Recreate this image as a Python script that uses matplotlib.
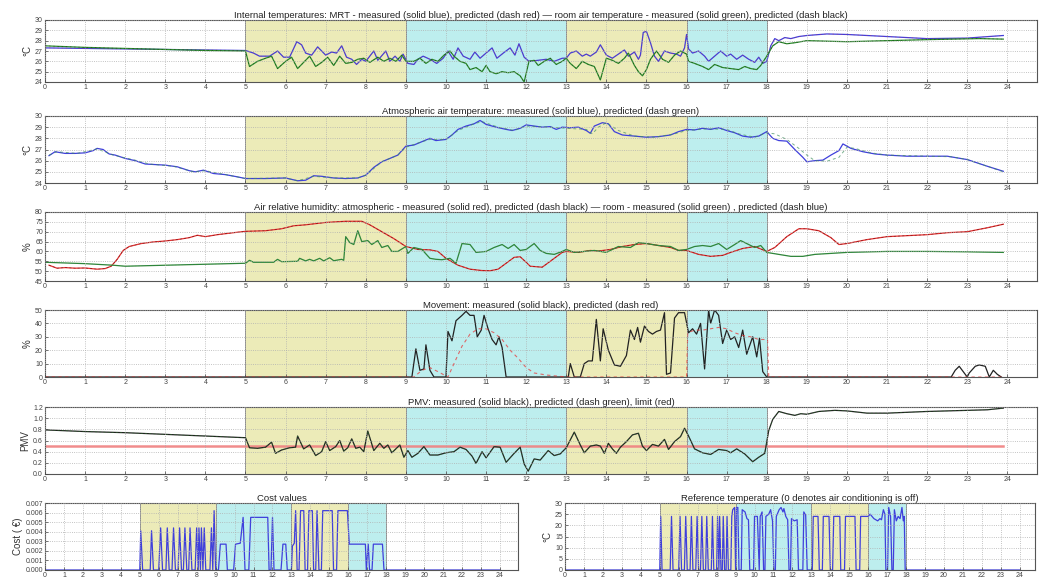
import numpy as np
import matplotlib
matplotlib.use("Agg")
import matplotlib.pyplot as plt

plt.rcParams['font.family'] = ['Liberation Sans', 'DejaVu Sans']

# ---- data (hour, value) ----
mrt = [(0,27.3),(1,27.25),(2,27.2),(3,27.15),(4,27.1),(5,27.05),(5.2,26.8),(5.35,26.5),(5.6,26.5),(5.8,27.0),
       (5.95,26.4),(6.1,26.4),(6.28,27.9),(6.4,27.6),(6.5,26.8),(6.65,26.6),(6.8,27.4),(7.0,26.6),(7.15,26.9),
       (7.27,26.8),(7.4,27.5),(7.52,26.4),(7.65,26.2),(7.77,25.7),(7.9,26.2),(8.0,26.0),(8.2,27.0),(8.3,26.1),
       (8.5,27.0),(8.6,26.0),(8.73,26.5),(8.85,26.0),(8.93,26.7),(9.05,25.8),(9.2,25.7),(9.3,26.2),(9.43,26.5),
       (9.6,26.2),(9.77,25.8),(9.93,26.3),(10.05,27.0),(10.18,26.2),(10.3,27.3),(10.43,26.5),(10.6,26.2),
       (10.72,26.9),(10.85,26.3),(11.0,26.8),(11.15,27.3),(11.27,26.3),(11.43,26.8),(11.6,27.3),(11.72,26.6),
       (11.82,27.7),(11.95,26.4),(12.07,26.0),(12.3,26.1),(12.5,26.2),(12.7,26.0),(12.9,26.3),(13.0,26.3),
       (13.1,26.8),(13.25,27.0),(13.4,26.5),(13.5,26.7),(13.6,26.5),(13.75,26.9),(13.85,27.6),(14.0,26.6),
       (14.15,26.3),(14.3,26.7),(14.45,27.1),(14.55,26.5),(14.7,26.9),(14.8,26.2),(14.85,26.6),(14.92,28.8),
       (15.0,28.9),(15.1,27.8),(15.2,26.5),(15.3,26.0),(15.45,27.0),(15.6,26.8),(15.75,26.7),(15.85,26.5),
       (15.95,27.3),(16.0,28.6),(16.05,27.2),(16.15,26.8),(16.3,27.0),(16.45,26.5),(16.55,26.0),(16.7,26.5),
       (16.85,27.0),(17.0,26.5),(17.1,26.7),(17.25,26.2),(17.4,26.6),(17.55,26.2),(17.7,25.9),(17.8,26.4),
       (17.9,25.8),(18.0,26.0),(18.1,27.5),(18.2,28.2),(18.3,28.0),(18.45,28.3),(18.6,28.2),(18.8,28.4),
       (19.0,28.5),(19.5,28.65),(20.0,28.6),(21.0,28.4),(22.0,28.2),(23.0,28.25),(23.9,28.5)]

room_air = [(0,27.5),(1,27.35),(2,27.25),(3,27.15),(4,27.05),(5,27.0),(5.1,25.5),(5.3,26.0),(5.5,26.3),(5.65,26.5),
            (5.8,25.3),(6.0,26.0),(6.15,26.4),(6.3,25.3),(6.45,25.9),(6.6,26.5),(6.75,25.5),(6.9,25.9),(7.05,26.4),
            (7.2,25.6),(7.35,26.5),(7.5,25.8),(7.65,25.9),(7.8,26.2),(7.95,26.3),(8.1,25.9),(8.3,26.4),(8.45,26.0),
            (8.6,26.3),(8.75,26.0),(8.9,26.6),(9.0,26.0),(9.2,26.0),(9.35,26.3),(9.5,25.8),(9.65,26.2),(9.8,26.0),
            (9.95,26.6),(10.1,27.0),(10.2,26.5),(10.35,26.0),(10.5,25.8),(10.6,25.2),(10.75,25.4),(10.9,25.0),
            (11.0,25.6),(11.1,25.0),(11.25,24.8),(11.4,25.0),(11.55,24.9),(11.7,25.0),(11.85,24.6),(11.95,24.0),
            (12.07,26.0),(12.2,26.1),(12.3,25.6),(12.45,26.0),(12.6,26.3),(12.75,25.7),(12.9,26.0),(13.0,26.3),
            (13.1,25.8),(13.25,25.3),(13.4,26.0),(13.55,25.7),(13.7,25.5),(13.85,24.2),(14.0,26.3),(14.15,26.1),
            (14.3,25.8),(14.45,26.3),(14.55,26.8),(14.7,25.6),(14.8,25.0),(14.9,24.6),(15.0,25.2),(15.1,26.2),
            (15.25,27.0),(15.4,26.2),(15.55,25.9),(15.7,26.6),(15.85,27.0),(16.0,26.7),(16.05,26.0),(16.2,25.8),
            (16.4,25.5),(16.55,25.2),(16.7,25.7),(16.9,25.4),(17.1,25.3),(17.3,25.2),(17.45,25.5),(17.6,25.3),
            (17.75,25.2),(17.85,25.6),(18.0,26.5),(18.15,27.5),(18.3,27.9),(18.5,27.7),(18.7,27.8),(19.0,28.0),
            (20.0,27.9),(21.0,28.0),(22.0,28.1),(23.3,28.2),(23.9,28.15)]

atm = [(0.1,26.45),(0.25,26.8),(0.5,26.65),(0.75,26.65),(1.0,26.7),(1.2,26.9),(1.3,27.1),(1.45,27.0),(1.6,26.6),
       (1.75,26.5),(2.0,26.2),(2.25,26.0),(2.5,25.7),(3.0,25.6),(3.3,25.45),(3.6,25.1),(3.75,25.0),(3.95,25.15),
       (4.2,24.85),(4.5,24.75),(4.8,24.55),(5.0,24.4),(5.5,24.4),(6.0,24.45),(6.3,24.2),(6.5,24.25),(6.7,24.65),
       (6.9,24.6),(7.2,24.45),(7.5,24.4),(7.8,24.45),(8.0,24.7),(8.2,25.4),(8.4,25.9),(8.6,26.2),(8.8,26.5),
       (9.0,27.3),(9.2,27.4),(9.4,27.7),(9.6,28.0),(9.75,27.8),(10.0,27.9),(10.15,28.3),(10.3,28.8),(10.5,29.1),
       (10.7,29.3),(10.85,29.6),(11.0,29.25),(11.25,29.0),(11.5,28.8),(11.65,28.7),(11.85,28.9),(12.0,29.2),
       (12.2,29.1),(12.4,29.0),(12.6,29.05),(12.75,28.8),(12.9,29.0),(13.1,28.95),(13.3,29.0),(13.5,28.7),
       (13.6,28.45),(13.7,29.1),(13.9,29.4),(14.05,29.3),(14.2,28.6),(14.4,28.3),(14.7,28.2),(15.0,28.1),
       (15.3,28.15),(15.6,28.3),(15.8,28.6),(16.0,28.8),(16.2,28.75),(16.4,28.9),(16.6,28.8),(16.8,28.95),
       (17.0,28.7),(17.2,28.5),(17.4,28.2),(17.6,28.1),(17.8,28.2),(17.9,28.4),(18.0,28.6),(18.15,28.0),
       (18.3,27.8),(18.5,27.75),(18.7,27.0),(18.9,26.3),(19.0,25.9),(19.2,26.0),(19.4,26.05),(19.6,26.5),
       (19.8,26.9),(19.9,27.5),(20.1,27.1),(20.4,26.8),(20.7,26.6),(21.0,26.5),(21.5,26.4),(22.0,26.4),
       (22.5,26.4),(23.0,26.1),(23.5,25.5),(23.9,25.05)]

atm_pred = [(0.1,26.5),(0.3,26.8),(0.8,26.65),(1.3,27.05),(1.7,26.5),(2.3,26.0),(2.6,25.7),(3.2,25.5),(3.7,25.0),
            (4.0,25.1),(4.5,24.75),(5.0,24.4),(6.0,24.45),(6.3,24.2),(6.7,24.6),(7.2,24.45),(7.8,24.45),(8.0,24.7),
            (8.4,25.9),(8.8,26.5),(9.0,27.2),(9.4,27.7),(9.6,27.9),(10.0,27.9),(10.3,28.7),(10.7,29.3),(10.9,29.5),
            (11.3,29.0),(11.7,28.7),(12.0,29.1),(12.6,29.0),(13.0,28.9),(13.5,28.8),(13.65,28.4),(13.8,29.0),
            (14.0,29.4),(14.3,28.7),(14.7,28.2),(15.2,28.1),(15.7,28.4),(16.0,28.7),(16.5,28.85),(17.0,28.8),
            (17.3,28.4),(17.7,28.1),(18.0,28.5),(18.2,28.4),(18.5,27.9),(18.8,27.1),(19.0,26.5),(19.2,26.0),
            (19.5,25.95),(19.8,26.3),(20.0,27.2),(20.2,27.1),(20.6,26.7),(21.0,26.5),(22.0,26.4),(22.6,26.35),
            (23.0,26.1),(23.5,25.5),(23.9,25.0)]

hum_atm = [(0.1,53.0),(0.3,51.5),(0.5,51.8),(0.75,51.5),(1.0,51.6),(1.3,51.0),(1.5,51.3),(1.65,52.5),(1.8,56.0),
           (1.95,60.5),(2.1,62.5),(2.4,64.0),(2.7,64.8),(3.0,65.3),(3.3,66.0),(3.6,67.0),(3.8,68.2),(4.0,67.5),
           (4.3,68.5),(4.7,69.5),(5.0,70.2),(5.5,70.5),(5.9,71.5),(6.2,73.0),(6.5,73.5),(7.0,74.7),(7.5,75.3),
           (7.9,75.3),(8.1,73.5),(8.4,70.0),(8.7,66.5),(9.0,62.5),(9.3,61.0),(9.6,60.8),(9.8,60.0),(10.0,56.5),
           (10.3,53.0),(10.6,51.0),(10.9,50.3),(11.1,50.2),(11.3,51.0),(11.5,54.0),(11.7,57.0),(11.85,57.3),
           (12.0,54.5),(12.1,52.5),(12.4,52.0),(12.5,53.5),(12.7,56.5),(12.9,59.5),(13.0,60.0),(13.3,59.5),
           (13.6,60.5),(13.8,60.2),(14.1,61.0),(14.4,62.5),(14.7,63.5),(15.0,64.0),(15.3,63.0),(15.6,62.0),
           (15.8,60.5),(16.0,60.5),(16.3,58.5),(16.6,57.5),(16.9,58.0),(17.1,59.5),(17.4,61.5),(17.7,62.5),
           (18.0,60.0),(18.2,62.0),(18.5,67.5),(18.8,71.5),(19.0,71.5),(19.3,70.5),(19.6,67.0),(19.8,63.5),
           (20.0,64.0),(20.5,66.0),(21.0,67.5),(21.5,68.0),(22.0,68.5),(22.5,69.5),(23.0,70.0),(23.5,72.0),(23.9,73.8)]

hum_room = [(0,54.5),(1.0,53.8),(1.7,53.0),(2.0,52.5),(3.0,53.0),(4.0,53.5),(5.0,54.0),(5.1,55.5),(5.2,54.5),
            (5.7,54.5),(5.8,56.0),(5.9,54.8),(6.3,55.0),(6.35,56.5),(6.5,55.2),(6.6,56.0),(6.7,55.2),(6.85,56.5),
            (6.95,55.2),(7.1,56.8),(7.2,55.3),(7.4,56.0),(7.45,55.5),(7.5,67.5),(7.6,64.5),(7.7,63.5),(7.8,70.5),
            (7.9,65.0),(8.05,65.5),(8.15,63.5),(8.3,65.5),(8.4,62.0),(8.55,63.0),(8.65,60.0),(8.8,60.0),(9.0,62.5),
            (9.05,59.0),(9.2,62.0),(9.4,61.0),(9.6,56.5),(9.75,56.0),(9.9,55.8),(10.1,56.5),(10.25,54.0),(10.4,64.0),
            (10.6,63.5),(10.75,59.5),(11.0,60.0),(11.2,62.0),(11.4,63.5),(11.55,61.5),(11.7,63.5),(11.85,60.5),
            (12.0,61.0),(12.2,64.0),(12.35,60.5),(12.5,59.0),(12.7,58.5),(12.9,60.0),(13.0,61.0),(13.2,59.5),
            (13.45,60.0),(13.7,60.5),(14.0,59.5),(14.3,62.5),(14.6,62.0),(14.8,64.5),(15.0,64.0),(15.3,63.0),
            (15.6,62.5),(15.8,60.5),(16.0,61.0),(16.2,62.5),(16.4,63.0),(16.6,62.5),(16.8,64.0),(17.0,61.0),
            (17.2,63.5),(17.35,65.5),(17.5,64.0),(17.7,62.0),(17.85,63.0),(18.0,59.5),(18.3,58.5),(18.6,57.5),
            (18.9,57.5),(19.2,58.5),(19.6,59.0),(20.0,59.5),(21.0,60.0),(22.0,60.0),(23.0,59.8),(23.9,59.5)]

move = [(0,0),(9.15,0),(9.25,21),(9.35,5),(9.45,6),(9.5,24),(9.6,5),(9.7,0),(10.0,0),(10.05,34),(10.15,27),
        (10.25,42),(10.4,46),(10.5,49),(10.6,46),(10.7,46),(10.78,30),(10.88,35),(10.95,46),(11.05,36),(11.15,28),
        (11.25,24),(11.32,30),(11.4,22),(11.5,0),(13.05,0),(13.1,10),(13.2,0),(13.35,0),(13.45,10),(13.55,12),
        (13.65,12),(13.75,43),(13.85,12),(13.92,36),(14.05,20),(14.2,9),(14.35,8),(14.5,16),(14.6,35),(14.7,28),
        (14.78,37),(14.85,26),(14.95,38),(15.05,34),(15.15,32),(15.25,34),(15.35,35),(15.45,48),(15.5,2),
        (15.6,3),(15.7,44),(15.8,48),(15.9,48),(15.95,48),(16.05,33),(16.15,36),(16.25,32),(16.35,40),(16.45,6),
        (16.55,50),(16.6,40),(16.7,50),(16.8,46),(16.9,25),(17.0,35),(17.1,28),(17.2,30),(17.3,22),(17.4,35),
        (17.5,17),(17.65,30),(17.75,15),(17.82,29),(17.9,4),(18.0,0),(22.6,0),(22.7,5),(22.8,8),(22.9,4),
        (23.0,0),(23.05,3),(23.2,8),(23.3,9),(23.45,8),(23.55,0),(23.65,5),(23.75,2),(23.85,0)]

move_pred = [(0,0),(9.2,0),(9.4,5),(9.6,7),(9.8,4),(10.05,0),(10.2,10),(10.4,23),(10.6,32),(10.8,36),(11.0,36),
             (11.2,33),(11.4,28),(11.6,20),(11.8,14),(12.0,7),(12.2,3),(12.5,1.5),(13.0,0),(16.0,0),(16.03,33),
             (16.2,35),(16.4,35),(16.6,36),(16.8,37),(17.0,36),(17.2,33),(17.4,31),(17.6,30),(17.8,28),(18.02,28),
             (18.05,0),(23.9,0)]

pmv = [(0,0.79),(1,0.76),(2,0.74),(3,0.71),(4,0.68),(5.0,0.65),(5.1,0.47),(5.3,0.46),(5.5,0.48),(5.65,0.57),
       (5.75,0.37),(5.9,0.43),(6.1,0.47),(6.25,0.48),(6.3,0.68),(6.45,0.45),(6.6,0.52),(6.75,0.33),(6.9,0.40),
       (7.0,0.58),(7.1,0.42),(7.25,0.49),(7.35,0.60),(7.45,0.41),(7.55,0.47),(7.65,0.63),(7.75,0.46),(7.85,0.48),
       (7.95,0.40),(8.05,0.77),(8.2,0.42),(8.35,0.55),(8.45,0.46),(8.55,0.52),(8.65,0.38),(8.85,0.52),(8.95,0.30),
       (9.05,0.42),(9.15,0.30),(9.3,0.37),(9.45,0.49),(9.6,0.34),(9.8,0.34),(10.0,0.38),(10.2,0.40),(10.35,0.48),
       (10.5,0.44),(10.65,0.32),(10.75,0.19),(10.9,0.40),(11.0,0.29),(11.2,0.49),(11.35,0.48),(11.5,0.21),
       (11.7,0.37),(11.85,0.48),(11.95,0.18),(12.05,0.05),(12.2,0.27),(12.35,0.25),(12.55,0.42),(12.7,0.33),
       (12.85,0.36),(13.0,0.47),(13.2,0.75),(13.35,0.52),(13.45,0.38),(13.6,0.50),(13.75,0.52),(13.85,0.50),
       (13.95,0.37),(14.05,0.55),(14.15,0.45),(14.25,0.37),(14.35,0.48),(14.5,0.58),(14.65,0.70),(14.8,0.73),
       (14.9,0.50),(15.0,0.42),(15.15,0.53),(15.3,0.50),(15.45,0.62),(15.55,0.44),(15.7,0.58),(15.85,0.67),
       (15.95,0.82),(16.05,0.68),(16.2,0.45),(16.4,0.38),(16.6,0.35),(16.8,0.44),(17.0,0.42),(17.1,0.38),
       (17.25,0.45),(17.45,0.36),(17.65,0.22),(17.8,0.30),(17.95,0.37),(18.05,0.78),(18.15,0.98),(18.3,1.12),
       (18.5,1.08),(18.7,1.05),(18.85,1.08),(19.0,1.07),(19.3,1.12),(19.7,1.14),(20.0,1.13),(20.5,1.09),
       (21.0,1.09),(22.0,1.12),(23.0,1.14),(23.5,1.15),(23.9,1.18)]
pmv_limit = 0.5

cost = [(0,0),(5.0,0),(5.05,0.0041),(5.15,0),(5.55,0),(5.62,0.0041),(5.72,0),(6.0,0),(6.1,0.0044),(6.2,0),
        (6.38,0),(6.45,0.0044),(6.55,0),(6.7,0),(6.78,0.0044),(6.88,0),(7.02,0),(7.1,0.0044),(7.2,0),(7.3,0),
        (7.38,0.0044),(7.48,0),(7.58,0),(7.65,0.0044),(7.75,0),(7.92,0),(8.0,0.0044),(8.08,0),(8.12,0.0044),
        (8.2,0),(8.25,0.0044),(8.33,0),(8.4,0.0044),(8.48,0),(8.7,0),(8.78,0.0044),(8.85,0),(8.92,0.0062),
        (9.0,0),(9.15,0),(9.25,0.0027),(9.55,0.0027),(9.62,0),(9.95,0),(10.05,0.0027),(10.3,0.0028),
        (10.45,0.0055),(10.55,0),(10.75,0),(10.85,0.0055),(11.75,0.0055),(11.82,0),(11.92,0),(12.0,0.0055),
        (12.08,0),(12.45,0),(12.55,0.0027),(12.7,0.0027),(12.78,0),(13.0,0),(13.05,0.0025),(13.15,0.0028),
        (13.22,0.0062),(13.3,0),(13.4,0),(13.48,0.0062),(13.65,0.0062),(13.72,0),(13.85,0),(13.92,0.0062),
        (14.1,0.0062),(14.17,0),(14.28,0),(14.35,0.0062),(14.45,0),(14.58,0),(14.65,0.0062),(15.15,0.0062),
        (15.22,0),(15.38,0),(15.45,0.0062),(15.95,0.0062),(16.05,0.0027),(16.9,0.0027),(16.95,0),(17.05,0.0027),
        (17.12,0),(17.25,0),(17.32,0.0027),(17.8,0.0027),(17.88,0),(24,0)]

ref_temp = [(0,0),(5.0,0),(5.05,24),(5.12,0),(5.55,0),(5.62,24),(5.7,0),(6.0,0),(6.07,24),(6.15,0),(6.3,0),
            (6.37,24),(6.45,0),(6.6,0),(6.67,24),(6.75,0),(6.9,0),(6.97,24),(7.05,0),(7.15,0),(7.22,24),(7.3,0),
            (7.42,0),(7.48,24),(7.56,0),(7.72,0),(7.78,24),(7.85,0),(8.0,0),(8.05,24),(8.12,0),(8.16,24),(8.23,0),
            (8.3,0),(8.35,24),(8.42,0),(8.5,0),(8.55,24),(8.62,0),(8.75,0),(8.8,24),(8.85,27),(8.95,28),(9.0,0),
            (9.05,28),(9.12,28),(9.18,0),(9.3,0),(9.35,27),(9.5,26),(9.6,23),(9.68,22.5),(9.75,0),(9.95,0),
            (10.0,24),(10.15,24),(10.25,0),(10.3,24),(10.4,26),(10.48,0),(10.55,0),(10.6,24),(10.75,25),(10.85,27),
            (10.95,22),(11.02,0),(11.1,0),(11.15,24),(11.3,27),(11.4,28),(11.5,26),(11.55,27.5),(11.65,24),
            (11.75,22.5),(11.82,0),(11.9,0),(11.95,23),(12.1,22),(12.25,22.5),(12.32,0),(12.55,0),(12.6,26),
            (12.7,24.5),(12.78,0),(13.05,0),(13.1,24),(13.35,24),(13.42,0),(13.58,0),(13.63,24),(13.93,24),
            (14.0,0),(14.12,0),(14.18,24),(14.5,24),(14.55,0),(14.75,0),(14.8,24),(15.3,24),(15.36,0),(15.55,0),
            (15.6,24),(16.0,24),(16.1,25),(16.3,23),(16.5,22),(16.62,23),(16.7,22.5),(16.8,27),(16.88,25),
            (16.93,0),(17.02,0),(17.08,28),(17.18,24),(17.25,0),(17.32,0),(17.38,27),(17.48,22),(17.58,24),
            (17.68,23),(17.78,28),(17.85,22),(17.9,24),(17.95,0),(24,0)]

periods = [(5, 9, '#ecebb8'), (9, 13, '#bdeeee'), (13, 16, '#ecebb8'), (16, 18, '#bdeeee')]

BLUE = '#3f3fdc'
GREEN = '#2e8b2e'
RED = '#e83030'


def xy(data):
    a = np.array(data, dtype=float)
    return a[:, 0], a[:, 1]


def setup(ax, xmax, yticks, ylim, ylabel, title, yfmt=None):
    for a, b, c in periods:
        ax.axvspan(a, b, color=c, zorder=0, lw=0)
    for v in [5, 9, 13, 16, 18]:
        ax.axvline(v, color='#8a8a8a', lw=0.7, zorder=0.5)
    ax.set_xlim(0, xmax)
    ax.set_ylim(*ylim)
    ax.set_xticks(range(25))
    ax.set_yticks(yticks)
    if yfmt:
        ax.set_yticklabels([yfmt % v for v in yticks])
    ax.grid(True, ls=':', color='#b0b0b0', lw=0.6)
    ax.set_axisbelow(False)
    ax.tick_params(labelsize=5, colors='#444444', direction='in', length=2, width=0.5, pad=1.5)
    for s in ax.spines.values():
        s.set_color('#555555')
        s.set_linewidth(0.8)
    ax.set_ylabel(ylabel, fontsize=7, labelpad=2, color='#333333')
    ax.set_title(title, fontsize=6.8, pad=1.5, color='#222222')


fig = plt.figure(figsize=(10.39, 5.82), dpi=100)
W, H = 1039.0, 582.0


def axes_px(x0, x1, y0, y1):
    return fig.add_axes([x0 / W, 1 - y1 / H, (x1 - x0) / W, (y1 - y0) / H])


XM = 24.74

# panel 1
ax1 = axes_px(45, 1037, 20, 82)
setup(ax1, XM, range(24, 31), (24, 30), '°C',
      'Internal temperatures: MRT - measured (solid blue), predicted (dash red) \u2014 room air temperature - '
      'measured (solid green), predicted (dash black)')
t, v = xy(mrt)
ax1.plot(t, v, color=BLUE, lw=0.9)
ax1.plot(t, v, color=RED, lw=0.5, ls='--', dashes=(2, 4), alpha=0.45)
t, v = xy(room_air)
ax1.plot(t, v, color=GREEN, lw=0.9)
ax1.plot(t, v, color='k', lw=0.5, ls='--', dashes=(2, 4), alpha=0.4)

# panel 2
ax2 = axes_px(45, 1037, 116, 183)
setup(ax2, XM, range(24, 31), (24, 30), '°C',
      'Atmospheric air temperature: measured (solid blue), predicted (dash green)')
t, v = xy(atm)
ax2.plot(t, v, color=BLUE, lw=0.9)
t, v = xy(atm_pred)
ax2.plot(t, v, color='#3f8f5f', lw=0.7, ls='--', dashes=(3, 3), alpha=0.7)

# panel 3
ax3 = axes_px(45, 1037, 212, 281)
setup(ax3, XM, range(45, 81, 5), (45, 80), '%',
      'Air relative humidity: atmospheric - measured (solid red), predicted (dash black) \u2014 room - '
      'measured (solid green) , predicted (dash blue)')
t, v = xy(hum_atm)
ax3.plot(t, v, color=RED, lw=0.9)
ax3.plot(t, v, color='k', lw=0.5, ls='--', dashes=(3, 3), alpha=0.45)
t, v = xy(hum_room)
ax3.plot(t, v, color=GREEN, lw=0.9)
ax3.plot(t, v, color=BLUE, lw=0.4, ls='--', dashes=(3, 3), alpha=0.3)

# panel 4
ax4 = axes_px(45, 1037, 310, 377)
setup(ax4, XM, range(0, 51, 10), (0, 50), '%',
      'Movement: measured (solid black), predicted (dash red)')
t, v = xy(move)
ax4.plot(t, v, color='#222222', lw=0.9)
t, v = xy(move_pred)
ax4.plot(t, v, color=RED, lw=0.8, ls='--', dashes=(3, 3), alpha=0.7)

# panel 5
ax5 = axes_px(45, 1037, 407, 474)
setup(ax5, XM, np.arange(0, 1.21, 0.2), (0, 1.2), 'PMV',
      'PMV: measured (solid black), predicted (dash green), limit (red)', yfmt='%.1f')
ax5.plot([0, 23.9], [pmv_limit, pmv_limit], color='#f08080', lw=1.8, alpha=0.9)
t, v = xy(pmv)
ax5.plot(t, v, color='#222222', lw=0.9)
ax5.plot(t, v, color=GREEN, lw=0.5, ls='--', dashes=(3, 3), alpha=0.5)

# bottom left: cost
ax6 = axes_px(45, 518, 503, 570)
setup(ax6, 24.95, np.arange(0, 0.0071, 0.001), (0, 0.007), 'Cost ( \u20ac)', 'Cost values', yfmt='%.3f')
t, v = xy(cost)
ax6.plot(t, v, color=BLUE, lw=0.9)

# bottom right: reference temperature
ax7 = axes_px(565, 1035, 503, 570)
setup(ax7, 24.8, range(0, 31, 5), (0, 30), '°C', 'Reference temperature (0 denotes air conditioning is off)')
t, v = xy(ref_temp)
ax7.plot(t, v, color=BLUE, lw=0.9)

fig.savefig('out.png', dpi=100)
